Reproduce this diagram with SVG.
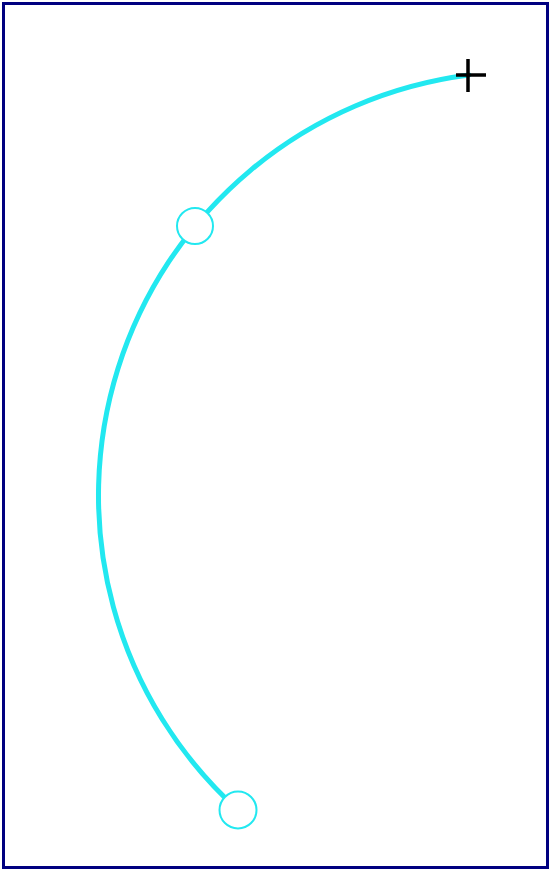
<svg xmlns="http://www.w3.org/2000/svg" width="550" height="869" viewBox="0 0 550 869">
<style>
.frame{fill:#ffffff;stroke:#000080;stroke-width:3}
.arc{fill:none;stroke:#22e8f0;stroke-width:5;stroke-linecap:round}
.handle{fill:#ffffff;stroke:#22e8f0;stroke-width:2}
.cursor{stroke:#000000;stroke-width:3.5;fill:none}
</style>
<rect class="frame" x="3.5" y="3.5" width="544" height="864"/>
<g id="connectors">
<path class="arc" d="M 238 810 A 424 424 0 0 1 469 75"/>
</g>
<g id="handle-middle">
<circle class="handle" cx="195" cy="226" r="18"/>
</g>
<g id="handle-start">
<circle class="handle" cx="238" cy="810" r="18.5"/>
</g>
<g id="cursor">
<path class="cursor" d="M 468 59 V 92 M 456 75 H 486"/>
</g>
</svg>
